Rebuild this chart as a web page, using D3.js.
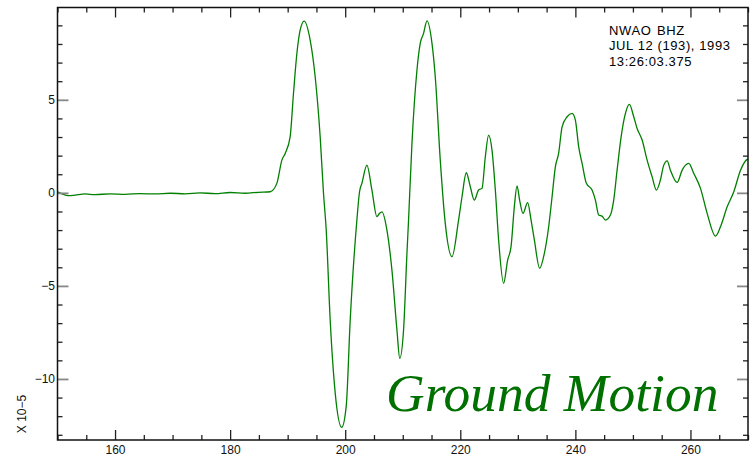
<!DOCTYPE html>
<html>
<head>
<meta charset="utf-8">
<script src="https://cdn.jsdelivr.net/npm/d3@7"></script>
<style>
  body { margin: 0; background: #fff; }
  .tick text { font-family: "Liberation Sans", Arial, sans-serif; font-size: 12px; fill: #111; }
  .note { font-family: "Liberation Sans Narrow", "Liberation Sans", sans-serif; font-size: 13px; letter-spacing: 0.6px; fill: #000; }
</style>
</head>
<body>
<div id="wrapper"></div>
<script>
// 1. Data

const times = [
  150.0, 150.78, 151.83, 153.04, 154.78, 156.52, 159.13, 161.74, 164.35, 166.96,
  169.57, 172.17, 174.78, 177.39, 180.0, 182.61, 184.87, 186.96, 188.12, 188.99,
  189.57, 190.43, 191.01, 191.6, 192.17, 192.87, 193.91, 194.78, 195.65, 196.23,
  196.7, 197.39, 198.26, 199.39, 200.17, 200.87, 202.03, 202.49, 202.9, 203.77,
  204.64, 205.51, 205.97, 206.38, 207.25, 208.12, 208.99, 209.48, 210.14, 210.73,
  211.01, 211.6, 212.47, 213.04, 213.62, 214.21, 215.08, 215.65, 216.52, 217.39,
  218.56, 219.7, 220.3, 221.04, 221.74, 222.43, 223.18, 223.77, 224.35, 224.92,
  225.51, 226.09, 226.66, 227.53, 228.23, 228.82, 229.39, 229.86, 230.31, 230.9,
  231.7, 232.3, 232.87, 233.79, 234.61, 235.36, 235.95, 236.52, 237.09, 237.69,
  238.56, 239.43, 240.0, 240.57, 241.17, 241.91, 242.9, 243.48, 244.05, 244.64,
  245.22, 246.09, 246.66, 247.25, 247.95, 248.7, 249.39, 250.14, 250.73, 251.6,
  252.47, 253.34, 254.09, 254.78, 255.36, 255.95, 256.52, 257.69, 258.56, 259.7,
  260.57, 261.74, 262.9, 264.35, 265.22, 266.38, 267.53, 268.7, 269.86, 270.0
];
const amplitudes = [
  0.05, -0.05, -0.15, -0.12, -0.06, -0.1, -0.05, -0.08, -0.04, -0.06,
  -0.02, -0.05, 0.0, -0.04, 0.02, -0.02, 0.03, 0.06, 0.51, 1.76,
  2.12, 3.01, 5.34, 7.49, 8.74, 9.23, 8.21, 6.24, 3.01, -0.03,
  -2.0, -6.83, -10.75, -12.6, -11.49, -6.83, -1.46, 0.06, 0.51, 1.49,
  0.15, -1.28, -1.1, -1.02, -2.0, -4.15, -7.37, -8.89, -7.37, -3.25,
  -1.46, 2.66, 6.6, 8.03, 8.57, 9.24, 8.03, 6.24, 1.76, -1.64,
  -3.43, -1.46, -0.21, 1.08, 0.33, -0.39, 0.15, 0.24, 1.94, 3.1,
  2.3, 0.15, -2.53, -4.86, -3.61, -2.89, -0.75, 0.38, -0.39, -1.1,
  -0.53, -1.46, -2.53, -4.05, -3.25, -1.82, -0.21, 1.4, 2.12, 3.55,
  4.09, 4.27, 3.91, 2.48, 1.58, 0.51, 0.15, -0.39, -1.19, -1.25,
  -1.46, -1.19, -0.39, 1.22, 3.01, 4.27, 4.75, 4.09, 3.46, 2.84,
  1.76, 0.86, 0.15, 0.69, 1.49, 1.72, 1.22, 0.56, 1.22, 1.58,
  1.05, 0.24, -1.1, -2.32, -1.82, -0.75, 0.06, 1.22, 1.8, 1.82
];

const xMajorTicks = [160, 180, 200, 220, 240, 260];
const yMajorTicks = [-10, -5, 0, 5];
const xDomain = [150, 270];
const yDomain = [-13.28, 9.96];

const headerLines = ["JUL 12 (193), 1993", "13:26:03.375"];
const station = "NWAO";
const channel = "BHZ";
const scaleLabel = "X 10\u22125";
const title = "Ground Motion";

const dataset = times.map((t, i) => ({ t, v: amplitudes[i] }));
const xAccessor = (d) => d.t;
const yAccessor = (d) => d.v;

// 2. Dimensions

let dimensions = {
  width: 756,
  height: 460,
  margin: { top: 7.5, right: 8, bottom: 20, left: 57.5 },
};
dimensions.boundedWidth =
  dimensions.width - dimensions.margin.left - dimensions.margin.right;
dimensions.boundedHeight =
  dimensions.height - dimensions.margin.top - dimensions.margin.bottom;

// 3. Canvas

const wrapper = d3
  .select("#wrapper")
  .append("svg")
  .attr("width", dimensions.width)
  .attr("height", dimensions.height);

const bounds = wrapper
  .append("g")
  .attr("transform", `translate(${dimensions.margin.left},${dimensions.margin.top})`);

// 4. Scales

const xScale = d3.scaleLinear().domain(xDomain).range([0, dimensions.boundedWidth]);
const yScale = d3.scaleLinear().domain(yDomain).range([dimensions.boundedHeight, 0]);

// minor ticks: every 5 s on x, every 1 unit on y
const xMinorTicks = d3.range(150, 271, 5).filter((v) => v % 20 !== 0);
const yMinorTicks = d3.range(-13, 10, 1).filter((v) => v % 5 !== 0);

// 5. Data

bounds
  .append("clipPath")
  .attr("id", "clip")
  .append("rect")
  .attr("width", dimensions.boundedWidth)
  .attr("height", dimensions.boundedHeight);

const lineGenerator = d3
  .line()
  .x((d) => xScale(xAccessor(d)))
  .y((d) => yScale(yAccessor(d)))
  .curve(d3.curveMonotoneX);

bounds
  .append("path")
  .datum(dataset)
  .attr("clip-path", "url(#clip)")
  .attr("d", lineGenerator)
  .attr("fill", "none")
  .attr("stroke", "#007f00")
  .attr("stroke-width", 1.3);

// 6. Peripherals

const styleAxis = (g, color, width) => {
  g.select(".domain").remove();
  g.selectAll(".tick line").attr("stroke", color).attr("stroke-width", width);
};

bounds
  .append("g")
  .attr("transform", `translate(0,${dimensions.boundedHeight})`)
  .call(d3.axisBottom(xScale).tickValues(xMajorTicks).tickSize(-10).tickPadding(5).tickFormat(d3.format("d")))
  .call((g) => styleAxis(g, "#222", 1.3));
bounds
  .append("g")
  .attr("transform", `translate(0,${dimensions.boundedHeight})`)
  .call(d3.axisBottom(xScale).tickValues(xMinorTicks).tickSize(-5).tickFormat(""))
  .call((g) => styleAxis(g, "#222", 1.3));
bounds
  .append("g")
  .call(d3.axisTop(xScale).tickValues(xMajorTicks).tickSize(-10).tickFormat(""))
  .call((g) => styleAxis(g, "#222", 1.3));
bounds
  .append("g")
  .call(d3.axisTop(xScale).tickValues(xMinorTicks).tickSize(-5).tickFormat(""))
  .call((g) => styleAxis(g, "#222", 1.3));

bounds
  .append("g")
  .call(d3.axisLeft(yScale).tickValues(yMajorTicks).tickSize(-11).tickPadding(2.5))
  .call((g) => styleAxis(g, "#888", 1.8));
bounds
  .append("g")
  .call(d3.axisLeft(yScale).tickValues(yMinorTicks).tickSize(-5).tickFormat(""))
  .call((g) => styleAxis(g, "#222", 1.3));
bounds
  .append("g")
  .attr("transform", `translate(${dimensions.boundedWidth},0)`)
  .call(d3.axisRight(yScale).tickValues(yMajorTicks).tickSize(-11).tickFormat(""))
  .call((g) => styleAxis(g, "#888", 1.8));
bounds
  .append("g")
  .attr("transform", `translate(${dimensions.boundedWidth},0)`)
  .call(d3.axisRight(yScale).tickValues(yMinorTicks).tickSize(-5).tickFormat(""))
  .call((g) => styleAxis(g, "#222", 1.3));

// frame
bounds
  .append("rect")
  .attr("width", dimensions.boundedWidth)
  .attr("height", dimensions.boundedHeight)
  .attr("fill", "none")
  .attr("stroke", "#111")
  .attr("stroke-width", 1.5);

// scale factor, rotated on the left
wrapper
  .append("text")
  .attr("transform", "translate(26,414) rotate(-90)")
  .attr("text-anchor", "middle")
  .style("font-family", "Liberation Sans, Arial, sans-serif")
  .style("font-size", "12px")
  .attr("fill", "#111")
  .text(scaleLabel);

// station header
wrapper.append("text").attr("class", "note").attr("x", 609).attr("y", 35).text(station);
wrapper.append("text").attr("class", "note").attr("x", 657).attr("y", 35).text(channel);
wrapper
  .selectAll(".header-line")
  .data(headerLines)
  .enter()
  .append("text")
  .attr("class", "note header-line")
  .attr("x", 609)
  .attr("y", (d, i) => 50 + i * 15.5)
  .text((d) => d);

// big title
wrapper
  .append("text")
  .attr("x", 386)
  .attr("y", 411)
  .style("font-family", "Liberation Serif, Times New Roman, serif")
  .style("font-style", "italic")
  .style("font-size", "53.5px")
  .attr("fill", "#007000")
  .text(title);
</script>
</body>
</html>
